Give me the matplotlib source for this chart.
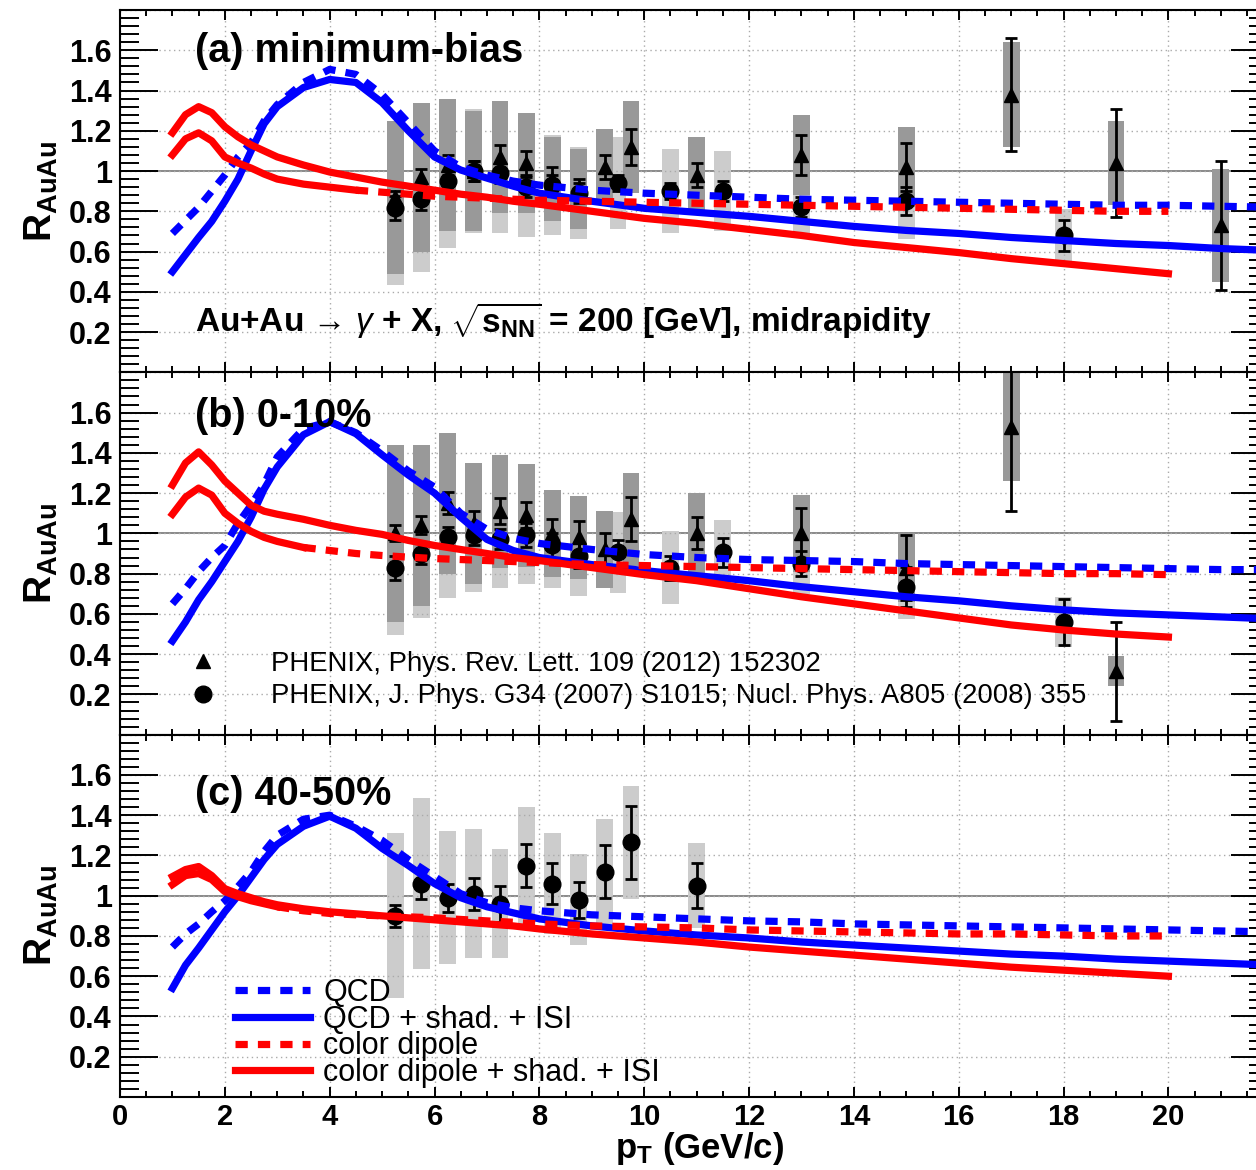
import numpy as np
import matplotlib.pyplot as plt
from matplotlib.lines import Line2D
from matplotlib.ticker import MultipleLocator, FuncFormatter

plt.rcParams['font.family'] = ['Liberation Sans', 'DejaVu Sans']
plt.rcParams['mathtext.fontset'] = 'custom'
plt.rcParams['mathtext.rm'] = 'Liberation Sans'
plt.rcParams['mathtext.bf'] = 'Liberation Sans:bold'
plt.rcParams['mathtext.it'] = 'Liberation Sans:italic'

# ---------------- theory curves ----------------
pt_th = [1.0, 1.25, 1.5, 1.75, 2.0, 2.25, 2.5, 2.75, 3.0, 3.5, 4.0, 4.5, 5.0, 5.5,
         6.0, 6.5, 7.0, 7.5, 8.0, 9, 10, 11, 12, 13, 14, 15, 16, 17, 18, 19, 20, 21, 22]
pt_dip = pt_th[:31]   # colour dipole curves stop at 20 GeV/c

# (a) minimum bias
qcd_a = [0.69, 0.755, 0.82, 0.90, 0.98, 1.07, 1.14, 1.25, 1.33, 1.44, 1.505, 1.48, 1.38, 1.24,
         1.10, 1.02, 0.98, 0.95, 0.93, 0.905, 0.89, 0.88, 0.87, 0.86, 0.855, 0.85, 0.845, 0.84,
         0.835, 0.83, 0.83, 0.825, 0.82]
qcdisi_a = [0.50, 0.585, 0.67, 0.75, 0.85, 0.96, 1.10, 1.235, 1.32, 1.415, 1.455, 1.44, 1.34, 1.20,
            1.07, 1.005, 0.965, 0.925, 0.89, 0.85, 0.815, 0.795, 0.775, 0.75, 0.725, 0.705, 0.69,
            0.67, 0.655, 0.64, 0.63, 0.615, 0.605]
dip_a = [1.08, 1.16, 1.19, 1.15, 1.07, 1.04, 1.015, 0.985, 0.96, 0.935, 0.92, 0.905, 0.895, 0.885,
         0.875, 0.87, 0.865, 0.86, 0.855, 0.85, 0.845, 0.84, 0.835, 0.83, 0.825, 0.82, 0.815,
         0.81, 0.805, 0.80, 0.80]
dipisi_a = [1.19, 1.28, 1.32, 1.29, 1.22, 1.17, 1.13, 1.10, 1.07, 1.03, 0.995, 0.97, 0.945, 0.925,
            0.905, 0.885, 0.87, 0.85, 0.835, 0.80, 0.765, 0.74, 0.71, 0.68, 0.645, 0.62, 0.595,
            0.565, 0.54, 0.515, 0.49]

# (b) 0-10%
qcd_b = [0.65, 0.725, 0.81, 0.88, 0.94, 1.05, 1.14, 1.245, 1.38, 1.52, 1.555, 1.50, 1.41, 1.31,
         1.23, 1.10, 1.02, 0.975, 0.95, 0.92, 0.895, 0.88, 0.87, 0.865, 0.86, 0.85, 0.845, 0.84,
         0.835, 0.83, 0.825, 0.82, 0.82]
qcdisi_b = [0.465, 0.56, 0.67, 0.76, 0.86, 0.96, 1.08, 1.22, 1.33, 1.49, 1.555, 1.495, 1.39, 1.29,
            1.20, 1.08, 0.97, 0.915, 0.88, 0.845, 0.815, 0.79, 0.765, 0.735, 0.71, 0.685, 0.665,
            0.64, 0.62, 0.605, 0.595, 0.585, 0.575]
dip_b = [1.095, 1.18, 1.225, 1.19, 1.10, 1.05, 1.01, 0.98, 0.96, 0.93, 0.915, 0.90, 0.89, 0.882,
         0.875, 0.87, 0.865, 0.86, 0.855, 0.845, 0.84, 0.835, 0.83, 0.825, 0.82, 0.815, 0.81,
         0.805, 0.80, 0.80, 0.795]
dipisi_b = [1.24, 1.35, 1.405, 1.34, 1.26, 1.20, 1.14, 1.11, 1.095, 1.07, 1.04, 1.015, 0.995, 0.965,
            0.94, 0.92, 0.90, 0.88, 0.865, 0.83, 0.795, 0.765, 0.725, 0.685, 0.65, 0.615, 0.58,
            0.545, 0.52, 0.50, 0.485]

# (c) 40-50%
qcd_c = [0.745, 0.81, 0.86, 0.92, 0.975, 1.045, 1.12, 1.22, 1.30, 1.38, 1.40, 1.345, 1.275, 1.18,
         1.095, 1.01, 0.965, 0.94, 0.925, 0.905, 0.895, 0.885, 0.875, 0.87, 0.86, 0.855, 0.85,
         0.845, 0.84, 0.835, 0.83, 0.825, 0.82]
qcdisi_c = [0.54, 0.655, 0.74, 0.83, 0.92, 1.00, 1.09, 1.18, 1.255, 1.345, 1.395, 1.335, 1.235, 1.15,
            1.06, 0.99, 0.945, 0.915, 0.885, 0.85, 0.825, 0.805, 0.79, 0.77, 0.755, 0.74, 0.725,
            0.71, 0.70, 0.685, 0.675, 0.665, 0.655]
dip_c = [1.055, 1.10, 1.11, 1.08, 1.02, 0.995, 0.975, 0.96, 0.945, 0.925, 0.912, 0.905, 0.90, 0.895,
         0.89, 0.882, 0.875, 0.868, 0.86, 0.85, 0.845, 0.84, 0.83, 0.825, 0.82, 0.815, 0.81,
         0.81, 0.805, 0.80, 0.80]
dipisi_c = [1.095, 1.13, 1.145, 1.10, 1.035, 1.01, 0.99, 0.97, 0.955, 0.935, 0.92, 0.91, 0.90, 0.89,
            0.88, 0.87, 0.86, 0.85, 0.835, 0.81, 0.79, 0.77, 0.745, 0.725, 0.705, 0.685, 0.665,
            0.645, 0.63, 0.615, 0.60]

# ---------------- PHENIX data: value, stat. error, syst. (box half height) ----------------
# PRL 109 (2012) 152302 -> triangles
tri_x_a = [5.25, 5.75, 6.25, 6.75, 7.25, 7.75, 8.25, 8.75, 9.25, 9.75, 11.0, 13.0, 15.0, 17.0, 19.0, 21.0]
tri_y_a = [0.87, 0.97, 1.03, 1.00, 1.07, 1.04, 0.96, 0.91, 1.02, 1.12, 0.98, 1.08, 1.02, 1.38, 1.04, 0.73]
tri_st_a = [0.03, 0.04, 0.05, 0.05, 0.06, 0.06, 0.06, 0.05, 0.06, 0.09, 0.06, 0.10, 0.12, 0.28, 0.27, 0.32]
tri_sy_a = [0.38, 0.37, 0.33, 0.30, 0.28, 0.25, 0.21, 0.20, 0.19, 0.23, 0.19, 0.20, 0.20, 0.26, 0.21, 0.28]

tri_x_b = [5.25, 5.75, 6.25, 6.75, 7.25, 7.75, 8.25, 8.75, 9.25, 9.75, 11.0, 13.0, 15.0, 17.0, 19.0]
tri_y_b = [1.00, 1.04, 1.15, 1.05, 1.11, 1.09, 1.00, 0.98, 0.92, 1.07, 1.00, 1.00, 0.83, 1.53, 0.315]
tri_st_b = [0.04, 0.045, 0.055, 0.06, 0.065, 0.065, 0.07, 0.08, 0.08, 0.11, 0.08, 0.125, 0.16, 0.42, 0.245]
tri_sy_b = [0.44, 0.40, 0.35, 0.30, 0.28, 0.255, 0.215, 0.205, 0.19, 0.23, 0.20, 0.19, 0.17, 0.27, 0.075]

tri_x_c, tri_y_c, tri_st_c, tri_sy_c = [], [], [], []

# J. Phys. G34 (2007) S1015; Nucl. Phys. A805 (2008) 355 -> circles
circ_x_a = [5.25, 5.75, 6.25, 6.75, 7.25, 7.75, 8.25, 8.75, 9.5, 10.5, 11.5, 13.0, 15.0, 18.0]
circ_y_a = [0.815, 0.86, 0.95, 1.00, 0.99, 0.92, 0.93, 0.89, 0.94, 0.90, 0.90, 0.82, 0.85, 0.68]
circ_st_a = [0.06, 0.055, 0.05, 0.05, 0.05, 0.05, 0.05, 0.05, 0.04, 0.04, 0.05, 0.05, 0.07, 0.075]
circ_sy_a = [0.38, 0.36, 0.33, 0.31, 0.30, 0.25, 0.25, 0.23, 0.23, 0.21, 0.20, 0.15, 0.19, 0.13]

circ_x_b = [5.25, 5.75, 6.25, 6.75, 7.25, 7.75, 8.25, 8.75, 9.5, 10.5, 11.5, 13.0, 15.0, 18.0]
circ_y_b = [0.83, 0.90, 0.98, 0.99, 0.97, 0.99, 0.94, 0.89, 0.905, 0.83, 0.905, 0.85, 0.735, 0.56]
circ_st_b = [0.06, 0.05, 0.05, 0.05, 0.05, 0.06, 0.06, 0.06, 0.06, 0.06, 0.07, 0.06, 0.10, 0.115]
circ_sy_b = [0.335, 0.32, 0.30, 0.28, 0.24, 0.24, 0.21, 0.20, 0.20, 0.18, 0.16, 0.15, 0.16, 0.125]

circ_x_c = [5.25, 5.75, 6.25, 6.75, 7.25, 7.75, 8.25, 8.75, 9.25, 9.75, 11.0]
circ_y_c = [0.90, 1.06, 0.99, 1.01, 0.96, 1.15, 1.06, 0.98, 1.12, 1.265, 1.05]
circ_st_c = [0.055, 0.075, 0.07, 0.08, 0.09, 0.105, 0.10, 0.09, 0.13, 0.18, 0.11]
circ_sy_c = [0.41, 0.425, 0.33, 0.32, 0.27, 0.29, 0.25, 0.225, 0.26, 0.28, 0.21]

panel_titles = ['(a) minimum-bias', '(b) 0-10%', '(c) 40-50%']
legend_labels = ['QCD', 'QCD + shad. + ISI', 'color dipole', 'color dipole + shad. + ISI']
data_labels = ['PHENIX, Phys. Rev. Lett. 109 (2012) 152302',
               'PHENIX, J. Phys. G34 (2007) S1015; Nucl. Phys. A805 (2008) 355']

panels = [
    (qcd_a, qcdisi_a, dip_a, dipisi_a, tri_x_a, tri_y_a, tri_st_a, tri_sy_a,
     circ_x_a, circ_y_a, circ_st_a, circ_sy_a),
    (qcd_b, qcdisi_b, dip_b, dipisi_b, tri_x_b, tri_y_b, tri_st_b, tri_sy_b,
     circ_x_b, circ_y_b, circ_st_b, circ_sy_b),
    (qcd_c, qcdisi_c, dip_c, dipisi_c, tri_x_c, tri_y_c, tri_st_c, tri_sy_c,
     circ_x_c, circ_y_c, circ_st_c, circ_sy_c),
]
dip_solid_upto = [4.5, 3.5, 3.0]   # ROOT draws the dense low-pT part of the dashed graph solid

BLUE = '#0000ff'
RED = '#ff0000'
DARK = '#999999'
LIGHT = '#cccccc'
LW = 5.2
DASH = (0, (1.7, 1.4))

fig = plt.figure(figsize=(12.56, 11.70), dpi=100)
L, W = 120 / 1256, 1148 / 1256
H = 362.33 / 1170
B0 = 1 - 1097 / 1170
bottoms = [B0 + 2 * H, B0 + H, B0]
title_y = [0.8565, 0.849, 0.806]


def ylab(v, pos):
    if v < 0.1 or v > 1.7:
        return ''
    return '%g' % round(v, 1)


for i, p in enumerate(panels):
    (qcd, qcdisi, dip, dipisi, tx, ty, tst, tsy, cx, cy, cst, csy) = p
    ax = fig.add_axes([L, bottoms[i], W, H])
    ax.set_xlim(0, 21.9)
    ax.set_ylim(0, 1.8)

    ax.grid(True, which='major', color='#aaaaaa', lw=1.0, linestyle=(0, (1, 2.5)), zorder=0)
    ax.axhline(1.0, color='#808080', lw=1.3, zorder=0.5)

    # systematic boxes
    if cx:
        ax.bar(cx, 2 * np.array(csy), bottom=np.array(cy) - np.array(csy), width=0.32,
               color=LIGHT, lw=0, zorder=1)
    if tx:
        ax.bar(tx, 2 * np.array(tsy), bottom=np.array(ty) - np.array(tsy), width=0.32,
               color=DARK, lw=0, zorder=2)

    # points with statistical errors
    if tx:
        ax.errorbar(tx, ty, yerr=tst, fmt='^', color='k', ms=10, elinewidth=2.0,
                    capsize=4, capthick=2.0, zorder=3)
    if cx:
        ax.errorbar(cx, cy, yerr=cst, fmt='o', color='k', ms=12, elinewidth=2.0,
                    capsize=4, capthick=2.0, zorder=3)

    # theory curves
    ax.plot(pt_th, qcd, color=BLUE, lw=LW, linestyle=DASH, dash_capstyle='butt', zorder=4)
    ax.plot(pt_th, qcdisi, color=BLUE, lw=LW, zorder=4)
    xd = np.array(pt_dip)
    yd = np.array(dip)
    k = int(np.searchsorted(xd, dip_solid_upto[i], side='right'))
    ax.plot(xd[:k], yd[:k], color=RED, lw=LW, zorder=4)
    ax.plot(xd[k - 1:], yd[k - 1:], color=RED, lw=LW, linestyle=DASH,
            dash_capstyle='butt', zorder=4)
    ax.plot(pt_dip, dipisi, color=RED, lw=LW, zorder=4)

    # axes style (ROOT-like)
    for s in ax.spines.values():
        s.set_linewidth(1.5)
    ax.xaxis.set_major_locator(MultipleLocator(2))
    ax.xaxis.set_minor_locator(MultipleLocator(0.5))
    ax.yaxis.set_major_locator(MultipleLocator(0.2))
    ax.yaxis.set_minor_locator(MultipleLocator(0.04))
    ax.yaxis.set_major_formatter(FuncFormatter(ylab))
    ax.tick_params(which='both', direction='in', top=True, right=True, width=1.4)
    ax.tick_params(axis='y', which='major', length=27, pad=6, labelsize=22)
    ax.tick_params(axis='y', which='minor', length=14)
    ax.tick_params(axis='x', which='major', length=7, pad=4, labelsize=21)
    ax.tick_params(axis='x', which='minor', length=4)
    for lab in ax.get_yticklabels() + ax.get_xticklabels():
        lab.set_fontweight('bold')
    if i < 2:
        ax.tick_params(axis='x', labelbottom=False)

    ax.set_ylabel(r'$\mathbf{R_{AuAu}}$', fontsize=28)
    ax.yaxis.set_label_coords(-0.052, 0.5)

    ax.text(0.0653, title_y[i], panel_titles[i], transform=ax.transAxes,
            fontsize=28.5, fontweight='bold', va='baseline', ha='left', zorder=6)

    if i == 0:
        ax.text(0.0653, 0.111,
                'Au+Au → $\\gamma$ + X, $\\sqrt{\\mathbf{s}_{\\mathbf{NN}}}$ = 200 [GeV], midrapidity',
                transform=ax.transAxes, fontsize=24, fontweight='bold', va='baseline',
                ha='left', zorder=6)
    if i == 1:
        hd = [Line2D([], [], marker='^', color='k', ls='none', ms=10),
              Line2D([], [], marker='o', color='k', ls='none', ms=12)]
        ax.legend(hd, data_labels, loc='upper left', bbox_to_anchor=(0.048, 0.231),
                  frameon=False, fontsize=19.8, handlelength=2.0, handletextpad=1.5,
                  borderpad=0, borderaxespad=0, labelspacing=0.23)
    if i == 2:
        hd = [Line2D([], [], color=BLUE, lw=LW, linestyle=DASH, dash_capstyle='butt'),
              Line2D([], [], color=BLUE, lw=LW),
              Line2D([], [], color=RED, lw=LW, linestyle=DASH, dash_capstyle='butt'),
              Line2D([], [], color=RED, lw=LW)]
        ax.legend(hd, legend_labels, loc='upper left', bbox_to_anchor=(0.100, 0.328),
                  frameon=False, fontsize=22, handlelength=2.45, handletextpad=0.45,
                  borderpad=0, borderaxespad=0, labelspacing=-0.11)
        ax.set_xlabel(r'$\mathbf{p_{T}}$ (GeV/c)', fontsize=25, fontweight='bold')
        ax.xaxis.set_label_coords(0.505, -0.092)

fig.savefig('out.png', dpi=100)
